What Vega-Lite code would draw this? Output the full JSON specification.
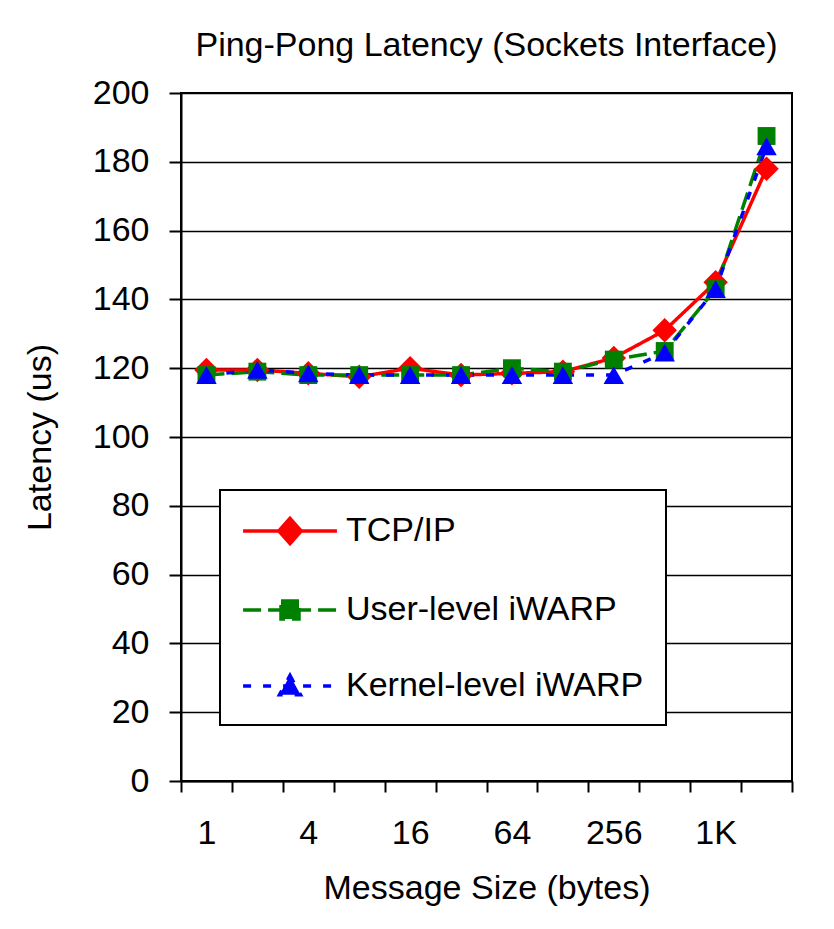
{
  "$schema": "https://vega.github.io/schema/vega-lite/v6.json",
  "width": 611,
  "height": 688,
  "autosize": {"type": "none"},
  "padding": {"left": 181, "top": 93, "right": 42, "bottom": 148},
  "background": "white",
  "title": {
    "text": "Ping-Pong Latency (Sockets Interface)",
    "font": "Liberation Sans",
    "fontSize": 34,
    "fontWeight": "normal",
    "color": "black",
    "anchor": "middle",
    "offset": 13
  },
  "data": {
    "values": [
      {"size": "1", "series": "TCP/IP", "latency": 119.5},
      {"size": "2", "series": "TCP/IP", "latency": 119.5},
      {"size": "4", "series": "TCP/IP", "latency": 118.5},
      {"size": "8", "series": "TCP/IP", "latency": 117.5},
      {"size": "16", "series": "TCP/IP", "latency": 120},
      {"size": "32", "series": "TCP/IP", "latency": 118},
      {"size": "64", "series": "TCP/IP", "latency": 118.5},
      {"size": "128", "series": "TCP/IP", "latency": 119},
      {"size": "256", "series": "TCP/IP", "latency": 123},
      {"size": "512", "series": "TCP/IP", "latency": 131},
      {"size": "1K", "series": "TCP/IP", "latency": 145},
      {"size": "2K", "series": "TCP/IP", "latency": 178},
      {"size": "1", "series": "User-level iWARP", "latency": 118},
      {"size": "2", "series": "User-level iWARP", "latency": 119},
      {"size": "4", "series": "User-level iWARP", "latency": 118},
      {"size": "8", "series": "User-level iWARP", "latency": 118},
      {"size": "16", "series": "User-level iWARP", "latency": 118},
      {"size": "32", "series": "User-level iWARP", "latency": 118},
      {"size": "64", "series": "User-level iWARP", "latency": 120},
      {"size": "128", "series": "User-level iWARP", "latency": 119},
      {"size": "256", "series": "User-level iWARP", "latency": 122.5},
      {"size": "512", "series": "User-level iWARP", "latency": 125},
      {"size": "1K", "series": "User-level iWARP", "latency": 143},
      {"size": "2K", "series": "User-level iWARP", "latency": 187.5},
      {"size": "1", "series": "Kernel-level iWARP", "latency": 118},
      {"size": "2", "series": "Kernel-level iWARP", "latency": 119.5},
      {"size": "4", "series": "Kernel-level iWARP", "latency": 118.5},
      {"size": "8", "series": "Kernel-level iWARP", "latency": 118},
      {"size": "16", "series": "Kernel-level iWARP", "latency": 118},
      {"size": "32", "series": "Kernel-level iWARP", "latency": 118},
      {"size": "64", "series": "Kernel-level iWARP", "latency": 118},
      {"size": "128", "series": "Kernel-level iWARP", "latency": 118},
      {"size": "256", "series": "Kernel-level iWARP", "latency": 118},
      {"size": "512", "series": "Kernel-level iWARP", "latency": 124.5},
      {"size": "1K", "series": "Kernel-level iWARP", "latency": 143},
      {"size": "2K", "series": "Kernel-level iWARP", "latency": 184.5}
    ]
  },
  "encoding": {
    "x": {
      "field": "size",
      "type": "ordinal",
      "sort": ["1", "2", "4", "8", "16", "32", "64", "128", "256", "512", "1K", "2K"],
      "scale": {"type": "band", "paddingInner": 0, "paddingOuter": 0},
      "axis": {
        "title": "Message Size (bytes)",
        "labelAngle": 0,
        "labelExpr": "indexof(['1','4','16','64','256','1K'], datum.label) >= 0 ? datum.label : ''",
        "tickBand": "extent",
        "labelPadding": 24,
        "titlePadding": 21
      }
    },
    "y": {
      "field": "latency",
      "type": "quantitative",
      "scale": {"domain": [0, 200], "nice": false},
      "axis": {
        "title": "Latency (us)",
        "values": [0, 20, 40, 60, 80, 100, 120, 140, 160, 180, 200],
        "grid": true,
        "tickSize": 12,
        "labelPadding": 20,
        "titlePadding": 35
      }
    },
    "color": {
      "field": "series",
      "type": "nominal",
      "scale": {
        "domain": ["TCP/IP", "User-level iWARP", "Kernel-level iWARP"],
        "range": ["#FF0000", "#008000", "#0000FF"]
      },
      "legend": null
    }
  },
  "layer": [
    {
      "mark": {"type": "line", "strokeWidth": 3.5},
      "encoding": {
        "strokeDash": {
          "field": "series",
          "type": "nominal",
          "scale": {
            "domain": ["TCP/IP", "User-level iWARP", "Kernel-level iWARP"],
            "range": [[1, 0], [18, 7], [8, 12]]
          },
          "legend": null
        },
        "color": {
          "field": "series",
          "type": "nominal",
          "legend": {
            "title": null,
            "orient": "none",
            "legendX": 39,
            "legendY": 397,
            "symbolSize": 1156,
            "symbolStrokeWidth": 3.5,
            "symbolOffset": 29,
            "labelFontSize": 34,
            "labelFont": "Liberation Sans",
            "labelColor": "black",
            "labelLimit": 500,
            "labelOffset": 37,
            "rowPadding": 40,
            "padding": 22,
            "fillColor": "white",
            "strokeColor": "black",
            "encode": {
              "legend": {"update": {"strokeWidth": {"value": 2}}},
              "symbols": {
                "update": {
                  "shape": {"signal": "datum.value === 'TCP/IP' ? 'M-2.76,0L2.76,0M0,-0.74L0.66,0L0,0.74L-0.66,0Z' : datum.value === 'User-level iWARP' ? 'M-2.76,0L2.76,0M-0.53,-0.53L0.53,-0.53L0.53,0.53L-0.53,0.53Z' : 'M-2.76,0L2.76,0M0,-0.62L0.62,0.52L-0.62,0.52Z'"},
                  "fill": {"scale": "color", "field": "value"},
                  "fillOpacity": {"value": 1},
                  "stroke": {"scale": "color", "field": "value"},
                  "strokeDash": {"scale": "strokeDash", "field": "value"},
                  "strokeWidth": {"value": 3.5},
                  "opacity": {"value": 1}
                }
              }
            }
          }
        }
      }
    },
    {
      "transform": [{"filter": "datum.series === 'TCP/IP'"}],
      "mark": {"type": "point", "filled": true, "opacity": 1, "shape": "diamond", "size": 600}
    },
    {
      "transform": [{"filter": "datum.series === 'User-level iWARP'"}],
      "mark": {"type": "point", "filled": true, "opacity": 1, "shape": "square", "size": 320}
    },
    {
      "transform": [{"filter": "datum.series === 'Kernel-level iWARP'"}],
      "mark": {"type": "point", "filled": true, "opacity": 1, "shape": "triangle-up", "size": 420}
    }
  ],
  "config": {
    "font": "Liberation Sans",
    "view": {"stroke": "black", "strokeWidth": 2},
    "axis": {
      "labelFont": "Liberation Sans",
      "titleFont": "Liberation Sans",
      "labelFontSize": 34,
      "titleFontSize": 34,
      "titleFontWeight": "normal",
      "labelColor": "black",
      "titleColor": "black",
      "domainColor": "black",
      "domainWidth": 2,
      "tickColor": "black",
      "tickWidth": 2,
      "tickSize": 11,
      "gridColor": "black",
      "gridWidth": 1.5,
      "gridOpacity": 1
    },
    "axisX": {"grid": false}
  }
}
